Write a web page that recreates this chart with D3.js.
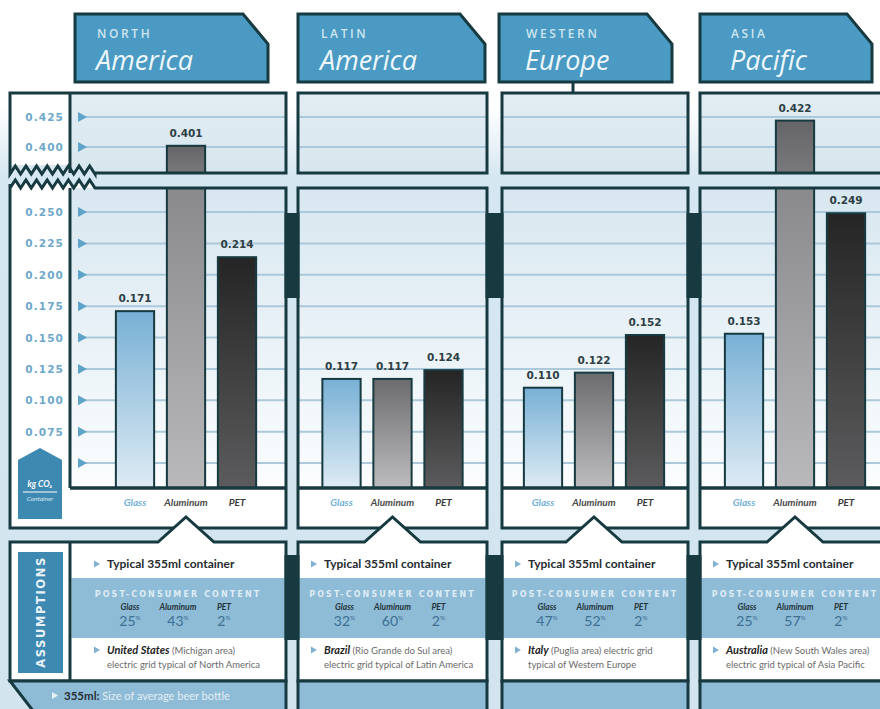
<!DOCTYPE html>
<html>
<head>
<meta charset="utf-8">
<script src="https://cdn.jsdelivr.net/npm/d3@7"></script>
<style>
  html, body { margin: 0; padding: 0; background: #fff; }
  svg { display: block; }
</style>
</head>
<body>
<svg id="chart" width="880" height="709"></svg>
<script>
// ---- data ----
const regionKicker = ["NORTH", "LATIN", "WESTERN", "ASIA"];
const regionName = ["America", "America", "Europe", "Pacific"];
const materials = ["Glass", "Aluminum", "PET"];
const glassKg = [0.171, 0.117, 0.110, 0.153];
const aluminumKg = [0.401, 0.117, 0.122, 0.422];
const petKg = [0.214, 0.124, 0.152, 0.249];
const lowerTicks = [0.250, 0.225, 0.200, 0.175, 0.150, 0.125, 0.100, 0.075, 0.050];
const lowerTickLabels = ["0.250", "0.225", "0.200", "0.175", "0.150", "0.125", "0.100", "0.075", ""];
const upperTicks = [0.425, 0.400];
const upperTickLabels = ["0.425", "0.400"];
const recycledGlass = [25, 32, 47, 25];
const recycledAluminum = [43, 60, 52, 57];
const recycledPET = [2, 2, 2, 2];
const gridCountry = ["United States", "Brazil", "Italy", "Australia"];
const gridLine1 = [" (Michigan area)", " (Rio Grande do Sul area)", " (Puglia area) electric grid", " (New South Wales area)"];
const gridLine2 = ["electric grid typical of North America", "electric grid typical of Latin America",
                   "typical of Western Europe", "electric grid typical of Asia Pacific"];
const containerNote = "Typical 355ml container";
const contentTitle = "POST-CONSUMER CONTENT";
const footKey = "355ml:";
const footText = " Size of average beer bottle";

// ---- layout ----
const C = {
  border: "#173a40", head: "#4a9ac3", grid: "#abc9da", tick: "#5fa3c9",
  axis: "#6ea8ca", band: "#8ebbd6", badge: "#3e89b2", label: "#2e3f45"
};
const outerL = [10, 298, 502, 700];
const plotL = [70, 298, 502, 700];
const plotR = [286, 487, 688, 896];
const headL = [75, 298, 499, 700];
const headR = [268, 485, 672, 872];
const groupC = [186, 392.5, 594, 795];
const upTop = 93, upBot = 173, loTop = 188, baseY = 488, loBot = 528, asTop = 542, asBot = 681;

const yLower = d3.scaleLinear().domain([0.05, 0.25]).range([463, 212]);
const yUpper = d3.scaleLinear().domain([0.40, 0.425]).range([147, 117]);
const lowerMax = yLower.invert(loTop);
const xBand = groupC.map(c => d3.scaleBand().domain(materials)
  .range([c - 76.5, c + 76.5]).paddingInner(0.25).paddingOuter(0.125));

const values = [glassKg, aluminumKg, petKg];

const svg = d3.select("#chart");
const defs = svg.append("defs");
function vgrad(id, stops) {
  const g = defs.append("linearGradient").attr("id", id)
    .attr("x1", 0).attr("y1", 0).attr("x2", 0).attr("y2", 1);
  stops.forEach(([o, c]) => g.append("stop").attr("offset", o).attr("stop-color", c));
}
vgrad("bg", [[0, "#ffffff"], [0.15, "#ffffff"], [0.25, "#d5e7f1"], [1, "#d2e5ef"]]);
vgrad("plot", [[0, "#d8e7f0"], [1, "#fbfdfe"]]);
vgrad("upper", [[0, "#e2edf3"], [1, "#d7e6ee"]]);
vgrad("g-Glass", [[0, "#78b0d5"], [1, "#deebf4"]]);
vgrad("g-Aluminum", [[0, "#6c6c6e"], [1, "#bdbdbf"]]);
vgrad("g-PET", [[0, "#252525"], [1, "#5c5c5e"]]);
vgrad("g-Aluminum-lo", [[0, "#8a8a8c"], [1, "#b9b9bb"]]);
vgrad("g-Aluminum-hi", [[0, "#656567"], [1, "#79797b"]]);

svg.append("rect").attr("width", 880).attr("height", 709).attr("fill", "url(#bg)");

// zigzag helper for the axis break
function zig(xa, xb, yc, amp, step) {
  const pts = [];
  const n = Math.round(Math.abs(xb - xa) / step);
  for (let k = 0; k <= n; k++) {
    pts.push([xa + (xb - xa) * k / n, yc + (k % 2 ? -amp : amp)]);
  }
  return pts;
}
const line = d3.line();

// ---- panel fills ----
const gPanels = svg.append("g");
regionName.forEach((_, i) => {
  const L = outerL[i], R = plotR[i];
  let upPath, loPath;
  if (i === 0) {
    upPath = `M${L},${upTop}H${R}V${upBot}H95` + line(zig(95, L, 170, 4, 5.3)).replace("M", "L") + "Z";
    loPath = `M${L},184` + line(zig(L, 95, 184, 4, 5.3)).replace("M", "L") + `L95,${loTop}H${R}V${loBot}H${L}Z`;
  } else {
    upPath = `M${L},${upTop}H${R}V${upBot}H${L}Z`;
    loPath = `M${L},${loTop}H${R}V${loBot}H${L}Z`;
  }
  gPanels.append("path").attr("d", upPath).attr("fill", "url(#upper)").attr("class", "up" + i);
  if (i === 0) gPanels.append("rect").attr("x", L).attr("y", upTop).attr("width", 60).attr("height", 72).attr("fill", "#fff");
  gPanels.append("path").attr("d", loPath).attr("fill", "#fff").attr("class", "lo" + i);
  gPanels.append("rect").attr("x", plotL[i]).attr("y", loTop).attr("width", R - plotL[i]).attr("height", baseY - loTop)
    .attr("fill", "url(#plot)");
});

// ---- gridlines and tick markers ----
const gGrid = svg.append("g");
regionName.forEach((_, i) => {
  const x0 = i === 0 ? 84 : plotL[i], x1 = plotR[i];
  gGrid.selectAll(null).data(lowerTicks).join("line")
    .attr("x1", x0).attr("x2", x1).attr("y1", d => yLower(d)).attr("y2", d => yLower(d))
    .attr("stroke", C.grid).attr("stroke-width", 2);
  gGrid.selectAll(null).data(upperTicks).join("line")
    .attr("x1", x0).attr("x2", x1).attr("y1", d => yUpper(d)).attr("y2", d => yUpper(d))
    .attr("stroke", C.grid).attr("stroke-width", 2);
});
const tri = y => `M78,${y - 5}L87,${y}L78,${y + 5}Z`;
gGrid.selectAll(null).data(lowerTicks).join("path").attr("d", d => tri(yLower(d))).attr("fill", C.tick);
gGrid.selectAll(null).data(upperTicks).join("path").attr("d", d => tri(yUpper(d))).attr("fill", C.tick);

// axis labels
const gAxis = svg.append("g").attr("font-family", "DejaVu Sans").attr("font-weight", "bold")
  .attr("font-size", 10.5).attr("fill", C.axis).attr("letter-spacing", 1.1).attr("text-anchor", "end");
gAxis.selectAll(null).data(lowerTicks).join("text")
  .attr("x", 64).attr("y", d => yLower(d) + 4).text((d, k) => lowerTickLabels[k]);
gAxis.selectAll(null).data(upperTicks).join("text")
  .attr("x", 64).attr("y", d => yUpper(d) + 4).text((d, k) => upperTickLabels[k]);

// ---- bars ----
const gBars = svg.append("g");
const gVals = svg.append("g").attr("font-family", "DejaVu Sans").attr("font-weight", "bold")
  .attr("font-size", 10.5).attr("fill", C.label).attr("text-anchor", "middle");
regionName.forEach((_, i) => {
  materials.forEach((m, k) => {
    const v = values[k][i];
    const x = xBand[i](m), w = xBand[i].bandwidth();
    let topY;
    if (v > lowerMax) {
      gBars.append("rect").attr("x", x).attr("y", loTop).attr("width", w).attr("height", baseY - loTop)
        .attr("fill", `url(#g-${m}-lo)`).attr("stroke", C.border).attr("stroke-width", 2);
      topY = yUpper(v);
      gBars.append("rect").attr("x", x).attr("y", topY).attr("width", w).attr("height", upBot - topY)
        .attr("fill", `url(#g-${m}-hi)`).attr("stroke", C.border).attr("stroke-width", 2);
    } else {
      topY = yLower(v);
      gBars.append("rect").attr("x", x).attr("y", topY).attr("width", w).attr("height", baseY - topY)
        .attr("fill", `url(#g-${m})`).attr("stroke", C.border).attr("stroke-width", 2);
    }
    gVals.append("text").attr("x", x + w / 2).attr("y", topY - 9).text(v.toFixed(3));
  });
});

// x labels
const matColor = { Glass: "#72b0d6", Aluminum: "#4b4b4b", PET: "#3a3a3a" };
const gX = svg.append("g").attr("font-family", "Lato").attr("font-weight", "bold").attr("font-style", "italic")
  .attr("font-size", 10).attr("text-anchor", "middle");
regionName.forEach((_, i) => {
  materials.forEach(m => {
    gX.append("text").attr("x", xBand[i](m) + xBand[i].bandwidth() / 2).attr("y", 506)
      .attr("fill", matColor[m]).text(m);
  });
});

// ---- panel outlines ----
const gLines = svg.append("g").attr("fill", "none").attr("stroke", C.border).attr("stroke-width", 3);
regionName.forEach((_, i) => {
  gLines.append("path").attr("d", d3.select(".up" + i).attr("d"));
  gLines.append("path").attr("d", d3.select(".lo" + i).attr("d"));
  gLines.append("line").attr("x1", plotL[i]).attr("x2", plotR[i]).attr("y1", baseY).attr("y2", baseY)
    .attr("stroke-width", 3.5);
});
gLines.append("line").attr("x1", 70).attr("x2", 70).attr("y1", upTop).attr("y2", upBot);
gLines.append("line").attr("x1", 70).attr("x2", 70).attr("y1", loTop).attr("y2", baseY);

// unit badge
const gBadge = svg.append("g");
gBadge.append("path").attr("d", "M18,460L40,448L62,460V519H18Z").attr("fill", C.badge);
gBadge.append("text").attr("x", 40).attr("y", 487).attr("text-anchor", "middle")
  .attr("font-family", "Lato").attr("font-weight", "bold").attr("font-style", "italic")
  .attr("font-size", 8.5).attr("fill", "#fff").text("kg CO₂");
gBadge.append("line").attr("x1", 23).attr("x2", 57).attr("y1", 492).attr("y2", 492)
  .attr("stroke", "#fff").attr("stroke-width", 1);
gBadge.append("text").attr("x", 40).attr("y", 501).attr("text-anchor", "middle")
  .attr("font-family", "Lato").attr("font-style", "italic")
  .attr("font-size", 6.5).attr("fill", "#dbeaf3").text("Container");

// ---- assumptions panels ----
const gAs = svg.append("g");
regionName.forEach((_, i) => {
  const L = outerL[i], R = plotR[i];
  const px = xBand[i]("Aluminum") + xBand[i].bandwidth() / 2;
  const d = `M${L},${asTop}H${px - 28}L${px},517L${px + 28},${asTop}H${R}V${asBot}H${L}Z`;
  gAs.append("path").attr("d", d).attr("fill", "#fff");
  const cL = plotL[i] + 1.5, cR = R - 1.5;
  gAs.append("rect").attr("x", cL).attr("y", 578).attr("width", cR - cL).attr("height", 60).attr("fill", C.band);
  gAs.append("path").attr("d", d).attr("fill", "none").attr("stroke", C.border).attr("stroke-width", 3);

  // footer band
  const fL = i === 0 ? `M${L},${asBot}H${R}V712H34Z` : `M${L},${asBot}H${R}V712H${L}Z`;
  gAs.append("path").attr("d", fL).attr("fill", C.band).attr("stroke", C.border).attr("stroke-width", 3);

  const tx = i === 0 ? 107 : plotL[i] + 26;
  const mark = (x, y, col) => gAs.append("path").attr("d", `M${x},${y - 3.5}L${x + 6},${y}L${x},${y + 3.5}Z`).attr("fill", col);

  mark(tx - 13, 564, "#7fb2d2");
  gAs.append("text").attr("x", tx).attr("y", 568).attr("font-family", "Lato").attr("font-weight", "bold")
    .attr("font-size", 12).attr("fill", "#262c2f").text(containerNote);

  const cc = (plotL[i] + Math.min(R, 890)) / 2;
  gAs.append("text").attr("x", cc).attr("y", 597).attr("text-anchor", "middle")
    .attr("font-family", "DejaVu Sans").attr("font-weight", "bold").attr("font-size", 8)
    .attr("letter-spacing", 2.1).attr("fill", "#e9f3f9").attr("fill-opacity", 0.9).text(contentTitle);
  const pcts = [recycledGlass[i], recycledAluminum[i], recycledPET[i]];
  const offs = [-48, 0, 46];
  materials.forEach((m, k) => {
    gAs.append("text").attr("x", cc + offs[k]).attr("y", 610).attr("text-anchor", "middle")
      .attr("font-family", "Lato").attr("font-weight", "bold").attr("font-style", "italic")
      .attr("font-size", 8.5).attr("fill", "#24343a").text(m);
    const t = gAs.append("text").attr("x", cc + offs[k]).attr("y", 626).attr("text-anchor", "middle")
      .attr("font-family", "Lato").attr("font-size", 14).attr("fill", "#3b6f93");
    t.append("tspan").text(pcts[k]);
    t.append("tspan").attr("font-size", 6.5).attr("dy", -6).text("%");
  });

  mark(tx - 13, 650, "#7fb2d2");
  const l1 = gAs.append("text").attr("x", tx).attr("y", 654).attr("font-family", "Lato");
  l1.append("tspan").attr("font-weight", "bold").attr("font-style", "italic").attr("font-size", 11)
    .attr("fill", "#232323").text(gridCountry[i]);
  l1.append("tspan").attr("font-size", 9.5).attr("fill", "#6a6a6a").text(gridLine1[i]);
  gAs.append("text").attr("x", tx).attr("y", 668).attr("font-family", "Lato").attr("font-size", 9.5)
    .attr("fill", "#6a6a6a").text(gridLine2[i]);
});
// left column of the assumptions panel
gAs.append("line").attr("x1", 70).attr("x2", 70).attr("y1", asTop).attr("y2", asBot)
  .attr("stroke", C.border).attr("stroke-width", 3);
gAs.append("rect").attr("x", 18).attr("y", 552).attr("width", 45).attr("height", 121).attr("fill", C.badge);
gAs.append("text").attr("transform", "translate(45,612) rotate(-90)").attr("text-anchor", "middle")
  .attr("font-family", "DejaVu Sans").attr("font-weight", "bold").attr("font-size", 11.5)
  .attr("letter-spacing", 1.6).attr("fill", "#e8f2f8").text("ASSUMPTIONS");

// footnote
gAs.append("path").attr("d", "M52,692L58,695.5L52,699Z").attr("fill", "#e6f0f6");
const fn = gAs.append("text").attr("x", 64).attr("y", 699.5).attr("font-family", "Lato");
fn.append("tspan").attr("font-weight", "bold").attr("font-size", 11.5).attr("fill", "#263036").text(footKey);
fn.append("tspan").attr("font-size", 11).attr("fill", "#e3edf3").text(footText);

// ---- connectors between regions ----
const gConn = svg.append("g").attr("fill", C.border);
[0, 1, 2].forEach(i => {
  const x0 = plotR[i] - 1.5, x1 = outerL[i + 1] + 1.5;
  gConn.append("rect").attr("x", x0).attr("y", 213).attr("width", x1 - x0).attr("height", 85);
  gConn.append("rect").attr("x", x0).attr("y", 555).attr("width", x1 - x0).attr("height", 85);
});

// ---- region headers ----
const gHead = svg.append("g");
regionName.forEach((name, i) => {
  const L = headL[i], R = headR[i];
  gHead.append("path").attr("d", `M${L},14H${R - 25}L${R},44V82H${L}Z`)
    .attr("fill", C.head).attr("stroke", C.border).attr("stroke-width", 3);
  const tx = L + [22, 23, 27, 31][i];
  gHead.append("text").attr("x", tx).attr("y", 38).attr("font-family", "Open Sans").attr("font-weight", 600)
    .attr("font-size", 12).attr("letter-spacing", 2.6).attr("fill", "#cfe5f0").text(regionKicker[i]);
  gHead.append("text").attr("x", tx - 1).attr("y", 70).attr("font-family", "Open Sans").attr("font-style", "italic")
    .attr("font-size", 27).attr("fill", "#eef7fb").text(name);
});
gHead.append("line").attr("x1", 573).attr("x2", 573).attr("y1", 82).attr("y2", upTop)
  .attr("stroke", C.border).attr("stroke-width", 3);
</script>
</body>
</html>
